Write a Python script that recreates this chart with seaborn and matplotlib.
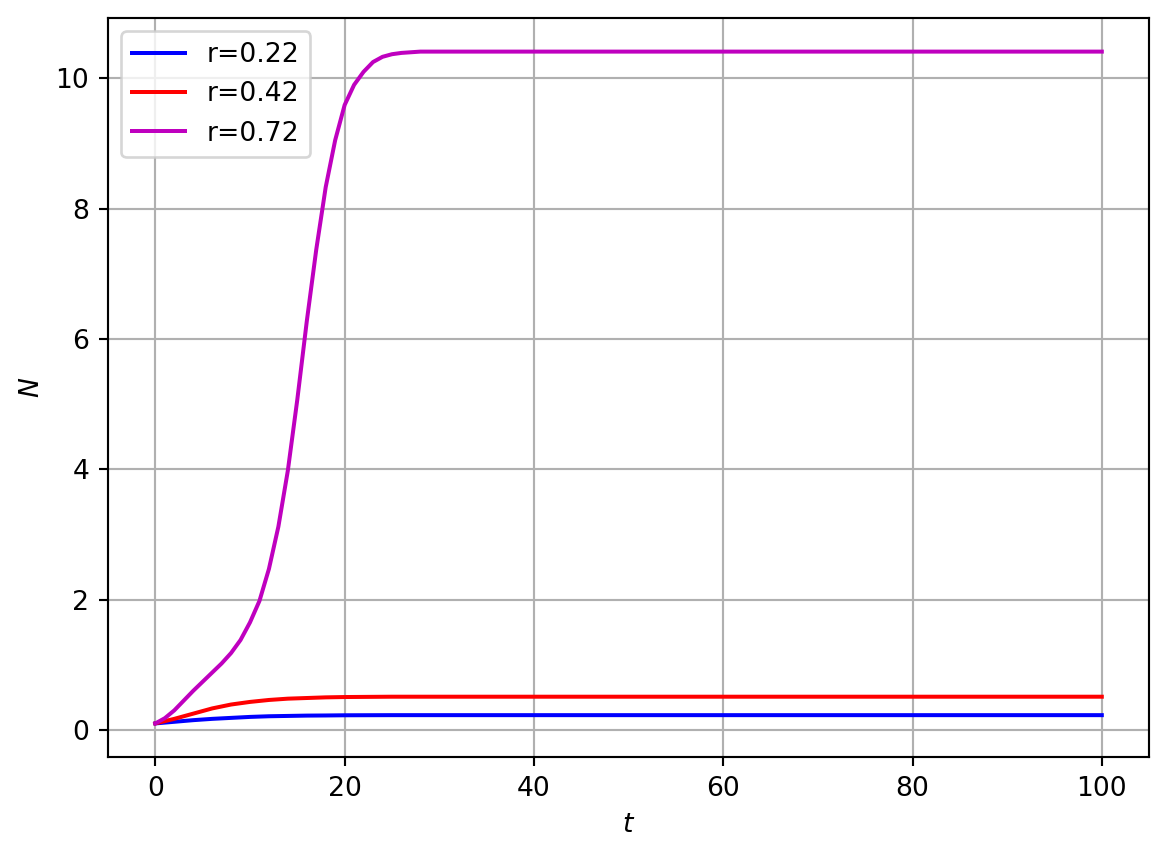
import numpy as np
import pandas as pd
import matplotlib
matplotlib.use("Agg")
import matplotlib.pyplot as plt
import seaborn as sns

# Data
t_022 = [0, 2, 4, 6, 8, 10, 12, 14, 16, 18, 20, 25, 30, 40, 60, 80, 100]
n_022 = [0.10, 0.125, 0.15, 0.17, 0.185, 0.20, 0.21, 0.215, 0.22, 0.222, 0.225, 0.227, 0.227, 0.227, 0.227, 0.227, 0.227]

t_042 = [0, 2, 4, 6, 8, 10, 12, 14, 16, 18, 20, 25, 30, 40, 60, 80, 100]
n_042 = [0.10, 0.17, 0.25, 0.33, 0.39, 0.43, 0.46, 0.48, 0.49, 0.50, 0.505, 0.51, 0.51, 0.51, 0.51, 0.51, 0.51]

t_072 = [0, 1, 2, 3, 4, 5, 6, 7, 8, 9, 10, 11, 12, 13, 14, 15, 16, 17, 18, 19,
         20, 21, 22, 23, 24, 25, 26, 27, 28, 30, 40, 60, 80, 100]
n_072 = [0.10, 0.18, 0.30, 0.45, 0.60, 0.74, 0.88, 1.02, 1.18, 1.38, 1.65, 1.98, 2.47, 3.12, 3.98, 5.07, 6.27, 7.37, 8.33, 9.05,
         9.59, 9.90, 10.10, 10.25, 10.33, 10.37, 10.39, 10.40, 10.41, 10.41, 10.41, 10.41, 10.41, 10.41]

labels = ["r=0.22", "r=0.42", "r=0.72"]
colors = ["#0000ff", "#ff0000", "#bf00bf"]

df = pd.concat([
    pd.DataFrame({"t": t_022, "N": n_022, "r": labels[0]}),
    pd.DataFrame({"t": t_042, "N": n_042, "r": labels[1]}),
    pd.DataFrame({"t": t_072, "N": n_072, "r": labels[2]}),
], ignore_index=True)

DPI = 192
fig, ax = plt.subplots(figsize=(1169 / DPI, 858 / DPI), dpi=DPI)
fig.subplots_adjust(left=0.0924, right=0.983, top=0.979, bottom=0.1177)

sns.lineplot(data=df, x="t", y="N", hue="r", palette=dict(zip(labels, colors)),
             estimator=None, sort=False, linewidth=1.5, ax=ax)

ax.grid(True, color="#b0b0b0", linewidth=0.8)
ax.set_xlabel("$t$")
ax.set_ylabel("$N$")
ax.set_xticks([0, 20, 40, 60, 80, 100])
ax.set_yticks([0, 2, 4, 6, 8, 10])
ax.legend(loc="upper left", title=None)

fig.savefig("out.png", dpi=DPI)
